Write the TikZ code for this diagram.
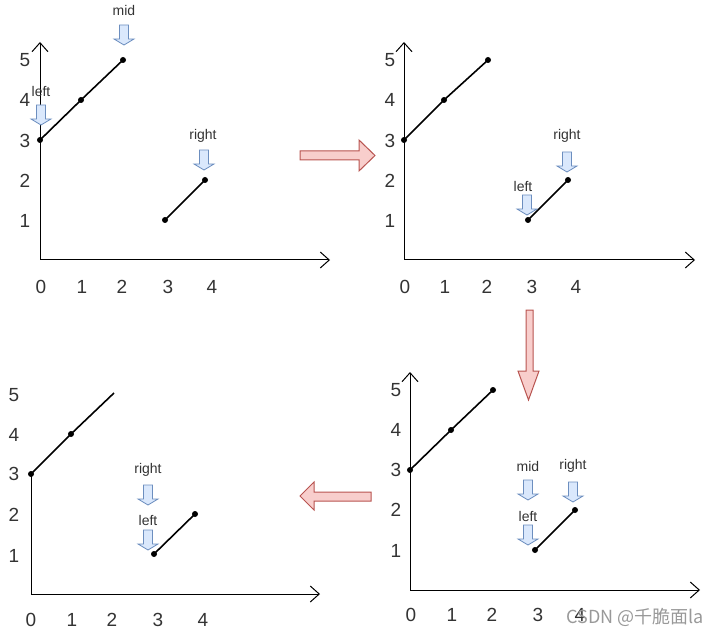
\documentclass[tikz,border=0pt]{standalone}
\usepackage{fontspec}
\setmainfont{Liberation Sans}
\newfontfamily\cjk{Noto Sans CJK SC}
\usetikzlibrary{arrows.meta}
\definecolor{txt}{HTML}{333333}
\definecolor{bfill}{HTML}{DAE8FC}
\definecolor{bline}{HTML}{6C8EBF}
\definecolor{rfill}{HTML}{F8CECC}
\definecolor{rline}{HTML}{B85450}
\tikzset{
  axis/.style={line width=1pt, draw=black, -{Straight Barb[length=9pt,width=16pt,line width=1pt]}},
  axisplain/.style={line width=1pt, draw=black},
  seg/.style={line width=1.6pt, draw=black},
  dot/.style={circle, fill=black, inner sep=0pt, minimum size=6pt},
  tick/.style={text=txt, font=\fontsize{19}{19}\selectfont, inner sep=0pt},
  lbl/.style={text=txt, font=\fontsize{14}{14}\selectfont, inner sep=0pt},
  barrow/.style={fill=bfill, draw=bline, line width=0.8pt},
  rarrow/.style={fill=rfill, draw=rline, line width=1pt},
}
\newcommand{\bdown}[2]{% center x, top y
  \draw[barrow] (#1-4.5,#2) -- (#1+4.5,#2) -- (#1+4.5,#2+14) -- (#1+10,#2+14) -- (#1,#2+20) -- (#1-10,#2+14) -- (#1-4.5,#2+14) -- cycle;}
\begin{document}
\begin{tikzpicture}[x=1pt,y=-1pt]
\useasboundingbox (0,0) rectangle (717,636);
% ================= Panel 1 (top-left)
\coordinate (o1) at (40,260);
\coordinate (y1t) at (40,42);
\coordinate (x1r) at (330,260);
\draw[axis] (o1) -- (y1t);
\draw[axis] (o1) -- (x1r);
\foreach \t/\x in {0/41,1/82,2/122,3/168,4/212} \node[tick] (p1x\t) at (\x,287) {\t};
\foreach \t/\y in {5/60,4/100,3/141,2/181,1/221} \node[tick] (p1y\t) at (25,\y) {\t};
\node[dot] (a1) at (40,140) {};
\node[dot] (b1) at (81,100) {};
\node[dot] (c1) at (123,60) {};
\node[dot] (d1) at (165,220) {};
\node[dot] (e1) at (205,180) {};
\draw[seg] (a1.center) -- (b1.center) -- (c1.center);
\draw[seg] (d1.center) -- (e1.center);
\node[lbl] (mid1) at (124,11) {mid};
\bdown{124}{25}
\node[lbl] (left1) at (41,91) {left};
\bdown{41}{105}
\node[lbl] (right1) at (203,136) {right};
\bdown{204}{150}
% ================= Panel 2 (top-right)
\coordinate (o2) at (404,260);
\coordinate (y2t) at (404,42);
\coordinate (x2r) at (695,260);
\draw[axis] (o2) -- (y2t);
\draw[axis] (o2) -- (x2r);
\foreach \t/\x in {0/405,1/445,2/487,3/532,4/576} \node[tick] (p2x\t) at (\x,287) {\t};
\foreach \t/\y in {5/60,4/100,3/141,2/181,1/221} \node[tick] (p2y\t) at (390,\y) {\t};
\node[dot] (a2) at (404,140) {};
\node[dot] (b2) at (444,100) {};
\node[dot] (c2) at (488,60) {};
\node[dot] (d2) at (528,220) {};
\node[dot] (e2) at (568,180) {};
\draw[seg] (a2.center) -- (b2.center) -- (c2.center);
\draw[seg] (d2.center) -- (e2.center);
\node[lbl] (right2) at (567,136) {right};
\bdown{567}{152}
\node[lbl] (left2) at (523,186) {left};
\bdown{527}{195}
% ================= Panel 3 (bottom-right)
\coordinate (o3) at (410,590);
\coordinate (y3t) at (410,372);
\coordinate (x3r) at (700,590);
\draw[axis] (o3) -- (y3t);
\draw[axis] (o3) -- (x3r);
\foreach \t/\x in {0/411,1/452,2/492,3/538,4/580} \node[tick] (p3x\t) at (\x,615) {\t};
\foreach \t/\y in {5/390,4/430,3/470,2/510,1/551} \node[tick] (p3y\t) at (396,\y) {\t};
\node[dot] (a3) at (410,470) {};
\node[dot] (b3) at (451,430) {};
\node[dot] (c3) at (493,390) {};
\node[dot] (d3) at (535,550) {};
\node[dot] (e3) at (575,510) {};
\draw[seg] (a3.center) -- (b3.center) -- (c3.center);
\draw[seg] (d3.center) -- (e3.center);
\node[lbl] (mid3) at (528,466) {mid};
\bdown{528}{480}
\node[lbl] (right3) at (573,466) {right};
\bdown{573}{482}
\node[lbl] (left3) at (528,516) {left};
\bdown{528}{525}
% ================= Panel 4 (bottom-left)
\coordinate (o4) at (31,594);
\coordinate (x4r) at (320,594);
\node[dot] (a4) at (31,474) {};
\node[dot] (b4) at (71,434) {};
\coordinate (c4) at (114,393);
\node[dot] (d4) at (154,554) {};
\node[dot] (e4) at (195,514) {};
\draw[axisplain] (o4) -- (a4.center);
\draw[axis] (o4) -- (x4r);
\foreach \t/\x in {0/31,1/72,2/112,3/158,4/203} \node[tick] (p4x\t) at (\x,620) {\t};
\foreach \t/\y in {5/395,4/435,3/474,2/515,1/556} \node[tick] (p4y\t) at (14,\y) {\t};
\draw[seg] (a4.center) -- (b4.center) -- (c4);
\draw[seg] (d4.center) -- (e4.center);
\node[lbl] (right4) at (148,470) {right};
\bdown{148}{485}
\node[lbl] (left4) at (148,520) {left};
\bdown{148}{530}
% ================= Big red arrows
\draw[rarrow] (300,151) -- (359,151) -- (359,140) -- (375,155.5) -- (359,171) -- (359,160) -- (300,160) -- cycle;
\draw[rarrow] (526,310) -- (533,310) -- (533,371) -- (539,371) -- (528.5,400) -- (518,371) -- (526,371) -- cycle;
\draw[rarrow] (371,492) -- (314,492) -- (314,482) -- (300,496) -- (314,510) -- (314,501) -- (371,501) -- cycle;
% ================= Watermark
\node[text=black!40, font=\cjk\fontsize{18}{18}\selectfont, inner sep=0pt, anchor=east] (wm) at (704,617) {CSDN @千脆面la};
\end{tikzpicture}
\end{document}
